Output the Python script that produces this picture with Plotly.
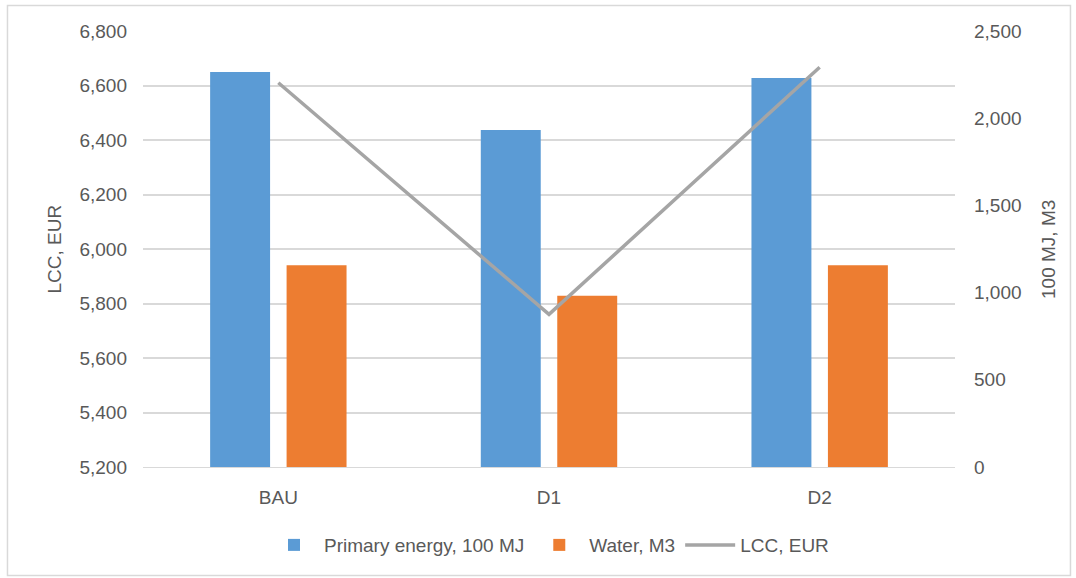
import plotly.graph_objects as go

categories = ["BAU", "D1", "D2"]
primary_energy = [2265, 1932, 2230]   # 100 MJ (right axis)
water = [1157, 982, 1157]             # M3 (right axis)
lcc = [6610, 5760, 6667]              # EUR (left axis)

left_ticks = [5200, 5400, 5600, 5800, 6000, 6200, 6400, 6600, 6800]
right_ticks = [0, 500, 1000, 1500, 2000, 2500]

FONT = "Liberation Sans"
TXT = "#595959"
GRID = "#d9d9d9"
FS = 19

fig = go.Figure()
fig.add_trace(go.Bar(x=categories, y=primary_energy, name="Primary energy, 100 MJ",
                     marker=dict(color="#5b9bd5", line=dict(width=0)), yaxis="y"))
fig.add_trace(go.Bar(x=categories, y=water, name="Water, M3",
                     marker=dict(color="#ed7d31", line=dict(width=0)), yaxis="y"))
fig.add_trace(go.Scatter(x=categories, y=lcc, name="LCC, EUR", mode="lines",
                         line=dict(color="#a5a5a5", width=3.5), yaxis="y2"))

fig.update_layout(
    width=1076, height=578,
    margin=dict(l=143, r=121, t=31, b=111, autoexpand=False),
    paper_bgcolor="white", plot_bgcolor="white",
    font=dict(family=FONT, size=FS, color=TXT),
    barmode="group", bargap=0.435, bargroupgap=0.216,
    showlegend=True,
    legend=dict(orientation="h", x=0.5, xanchor="center", y=-0.179, yanchor="middle",
                font=dict(family=FONT, size=FS, color=TXT), itemwidth=50,
                bgcolor="rgba(0,0,0,0)"),
    xaxis=dict(type="category", showgrid=False, showline=True, linecolor=GRID, linewidth=1,
               ticks="", ticklabelstandoff=13, tickfont=dict(size=FS, color=TXT),
               automargin=False),
    yaxis=dict(side="right", range=[0, 2500], tickvals=right_ticks,
               ticktext=[f"{v:,}" for v in right_ticks], showgrid=False, zeroline=False,
               ticks="", ticklabelstandoff=18, tickfont=dict(size=FS, color=TXT),
               automargin=False),
    yaxis2=dict(side="left", overlaying="y", range=[5200, 6800], tickvals=left_ticks,
                ticktext=[f"{v:,}" for v in left_ticks], showgrid=True, gridcolor=GRID,
                gridwidth=1.5, zeroline=False, ticks="", ticklabelstandoff=15,
                tickfont=dict(size=FS, color=TXT), automargin=False),
    annotations=[
        dict(text="LCC, EUR", xref="paper", yref="paper", x=-0.109, y=0.5,
             textangle=-90, showarrow=False, xanchor="center", yanchor="middle",
             font=dict(size=FS, color=TXT, family=FONT)),
        dict(text="100 MJ, M3", xref="paper", yref="paper", x=1.1145, y=0.5,
             textangle=-90, showarrow=False, xanchor="center", yanchor="middle",
             font=dict(size=FS, color=TXT, family=FONT)),
    ],
    shapes=[dict(type="rect", xref="paper", yref="paper", x0=-0.1669, x1=1.1422,
                 y0=-0.2489, y1=1.0585, line=dict(color=GRID, width=1.5), layer="below")],
)

fig.write_html("out.html")
